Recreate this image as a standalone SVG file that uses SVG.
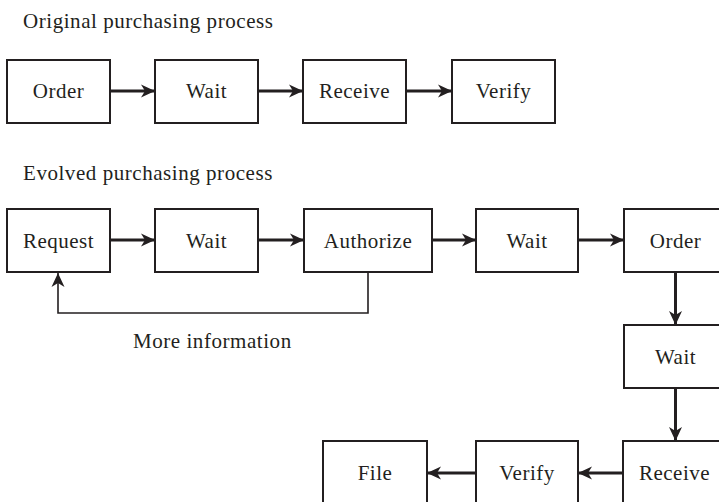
<svg xmlns="http://www.w3.org/2000/svg" width="719" height="502" viewBox="0 0 719 502">
  <style>
    .box { fill: #ffffff; stroke: #231f20; stroke-width: 2; }
    .lbl { font-family: "Liberation Serif", "Times New Roman", serif; font-size: 21px; letter-spacing: 0.5px; fill: #231f20; text-anchor: middle; }
    .title { font-family: "Liberation Serif", "Times New Roman", serif; font-size: 21px; letter-spacing: 0.55px; fill: #231f20; }
    .flow { fill: none; stroke: #231f20; stroke-width: 3; }
    .loop { fill: none; stroke: #231f20; stroke-width: 1.6; }
  </style>
  <defs>
    <marker id="arrow" markerUnits="userSpaceOnUse" markerWidth="15" markerHeight="15" viewBox="0 0 15 15" refX="14" refY="7.5" orient="auto">
      <path d="M0,1 L14,7.5 L0,14 L4,7.5 Z" fill="#231f20"/>
    </marker>
  </defs>
  <rect width="719" height="502" fill="#ffffff"/>

  <text class="title" x="23" y="28">Original purchasing process</text>
  <text class="title" x="23" y="180">Evolved purchasing process</text>

  <!-- original process -->
  <g id="o-order"><rect class="box" x="7" y="60" width="103" height="63"/><text class="lbl" x="58.5" y="98">Order</text></g>
  <g id="o-wait"><rect class="box" x="155" y="60" width="103" height="63"/><text class="lbl" x="206.5" y="98">Wait</text></g>
  <g id="o-receive"><rect class="box" x="303" y="60" width="103" height="63"/><text class="lbl" x="354.5" y="98">Receive</text></g>
  <g id="o-verify"><rect class="box" x="452" y="60" width="103" height="63"/><text class="lbl" x="503.5" y="98">Verify</text></g>

  <!-- evolved process -->
  <g id="e-request"><rect class="box" x="7" y="209" width="103" height="63"/><text class="lbl" x="58.5" y="248">Request</text></g>
  <g id="e-wait1"><rect class="box" x="155" y="209" width="103" height="63"/><text class="lbl" x="206.5" y="248">Wait</text></g>
  <g id="e-authorize"><rect class="box" x="304" y="209" width="128" height="63"/><text class="lbl" x="368" y="248">Authorize</text></g>
  <g id="e-wait2"><rect class="box" x="476" y="209" width="102" height="63"/><text class="lbl" x="527" y="248">Wait</text></g>
  <g id="e-order"><rect class="box" x="624" y="209" width="103" height="63"/><text class="lbl" x="675.5" y="248">Order</text></g>
  <g id="e-wait3"><rect class="box" x="624" y="325" width="103" height="63"/><text class="lbl" x="675.5" y="364">Wait</text></g>
  <g id="e-receive"><rect class="box" x="623" y="441" width="103" height="70"/><text class="lbl" x="674.5" y="480">Receive</text></g>
  <g id="e-verify"><rect class="box" x="476" y="441" width="102" height="70"/><text class="lbl" x="527" y="480">Verify</text></g>
  <g id="e-file"><rect class="box" x="323" y="441" width="104" height="70"/><text class="lbl" x="375" y="480">File</text></g>

  <g id="connectors">
    <line class="flow" x1="110" y1="91" x2="155" y2="91" marker-end="url(#arrow)"/>
    <line class="flow" x1="258" y1="91" x2="303" y2="91" marker-end="url(#arrow)"/>
    <line class="flow" x1="406" y1="91" x2="452" y2="91" marker-end="url(#arrow)"/>

    <line class="flow" x1="110" y1="240" x2="155" y2="240" marker-end="url(#arrow)"/>
    <line class="flow" x1="258" y1="240" x2="304" y2="240" marker-end="url(#arrow)"/>
    <line class="flow" x1="432" y1="240" x2="476" y2="240" marker-end="url(#arrow)"/>
    <line class="flow" x1="578" y1="240" x2="624" y2="240" marker-end="url(#arrow)"/>
    <line class="flow" x1="675.5" y1="272" x2="675.5" y2="325" marker-end="url(#arrow)"/>
    <line class="flow" x1="675.5" y1="388" x2="675.5" y2="441" marker-end="url(#arrow)"/>
    <line class="flow" x1="623" y1="473" x2="578" y2="473" marker-end="url(#arrow)"/>
    <line class="flow" x1="476" y1="473" x2="427" y2="473" marker-end="url(#arrow)"/>

    <polyline class="loop" points="368,272 368,313 58,313 58,273" marker-end="url(#arrow)"/>
  </g>
  <text class="title" x="133" y="348">More information</text>
</svg>
